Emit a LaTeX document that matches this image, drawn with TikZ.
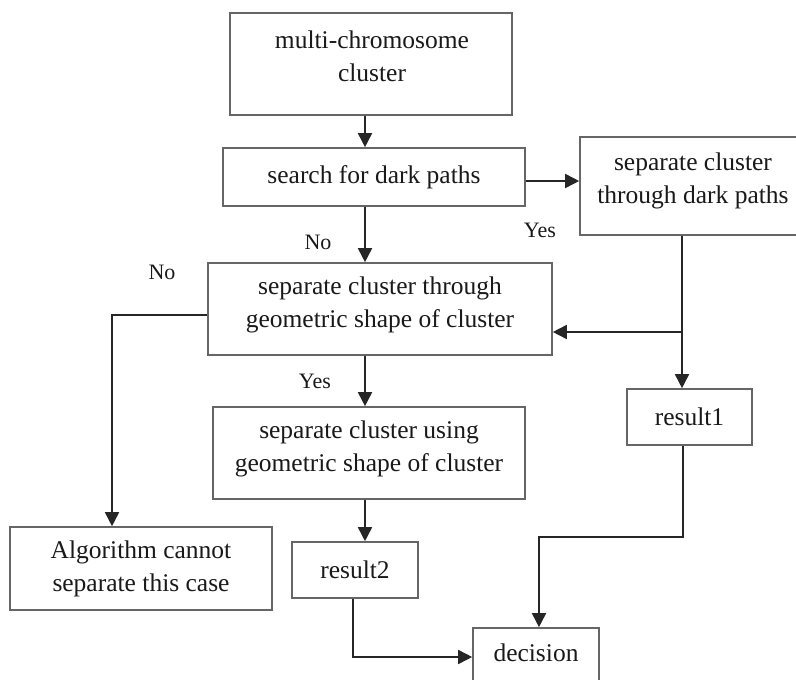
\documentclass[tikz,border=0pt]{standalone}
\usepackage{fontspec}
\setmainfont{Liberation Serif}
\usetikzlibrary{arrows.meta}
\begin{document}
\begin{tikzpicture}[x=1pt,y=-1pt,
  box/.style={draw=black!60, line width=1.6pt, rectangle, inner sep=0pt, align=center,
    font=\fontsize{25.5}{33}\selectfont, text=black!90},
  lbl/.style={font=\fontsize{22}{26}\selectfont, text=black!90, inner sep=0pt},
  arr/.style={draw=black!85, line width=1.6pt, -{Triangle[length=14pt,width=14pt]}},
  ln/.style={draw=black!85, line width=1.6pt}]
\useasboundingbox (0,0) rectangle (796,680);
\clip (0,0) rectangle (796,680);
% boxes
\node[box, minimum width=282, minimum height=102] (b1) at (371,64) {};
\node[lbl, font=\fontsize{25.5}{33}\selectfont, align=center] (b1t) at (372,56) {multi-chromosome\\cluster};
\node[box, minimum width=302, minimum height=58] (b2) at (374,177) {search for dark paths};
\node[box, minimum width=220, minimum height=98] (b3) at (690,186) {};
\node[lbl, font=\fontsize{25.5}{33}\selectfont, align=center] (b3t) at (693,181) {separate cluster\\through dark paths};
\node[box, minimum width=344, minimum height=92] (b4) at (380,309) {};
\node[lbl, font=\fontsize{25.5}{33}\selectfont, align=center] (b4t) at (380,305) {separate cluster through\\geometric shape of cluster};
\node[box, minimum width=312, minimum height=92] (b5) at (369,453) {};
\node[lbl, font=\fontsize{25.5}{33}\selectfont, align=center] (b5t) at (369,449) {separate cluster using\\geometric shape of cluster};
\node[box, minimum width=125, minimum height=56] (r1) at (689.5,417) {result1};
\node[box, minimum width=262, minimum height=83] (alg) at (141,568.5) {Algorithm cannot\\separate this case};
\node[box, minimum width=126, minimum height=56] (r2) at (355,570) {result2};
\node[box, minimum width=126, minimum height=60] (dec) at (536,658) {};
\node[lbl, font=\fontsize{25.5}{33}\selectfont] (dect) at (536,653) {decision};
% helper coordinates
\coordinate (cx) at (365,0);
\coordinate (yb3) at (0,181);
\coordinate (j1) at (682,332);
\coordinate (j2) at (112,315);
\coordinate (j3) at (683,537);
\coordinate (j4) at (539,537);
\coordinate (j5) at (353,657);
% connectors
\draw[arr] (b1.south -| cx) -- (b2.north -| cx);
\draw[arr] (b2.south -| cx) -- (b4.north -| cx);
\draw[arr] (b4.south -| cx) -- (b5.north -| cx);
\draw[arr] (b5.south -| cx) -- (r2.north -| cx);
\draw[arr] (b2.east |- yb3) -- (b3.west |- yb3);
\draw[ln] (b3.south -| j1) -- (j1);
\draw[arr] (j1) -- (b4.east |- j1);
\draw[arr] (j1) -- (r1.north -| j1);
\draw[arr] (b4.west |- j2) -- (j2) -- (alg.north -| j2);
\draw[arr] (r1.south -| j3) -- (j3) -- (j4) -- (dec.north -| j4);
\draw[arr] (r2.south -| j5) -- (j5) -- (dec.west |- j5);
% labels
\node[lbl] (yes1) at (540,230) {Yes};
\node[lbl] (no1) at (318,242) {No};
\node[lbl] (yes2) at (315,381) {Yes};
\node[lbl] (no2) at (162,272) {No};
\end{tikzpicture}
\end{document}
